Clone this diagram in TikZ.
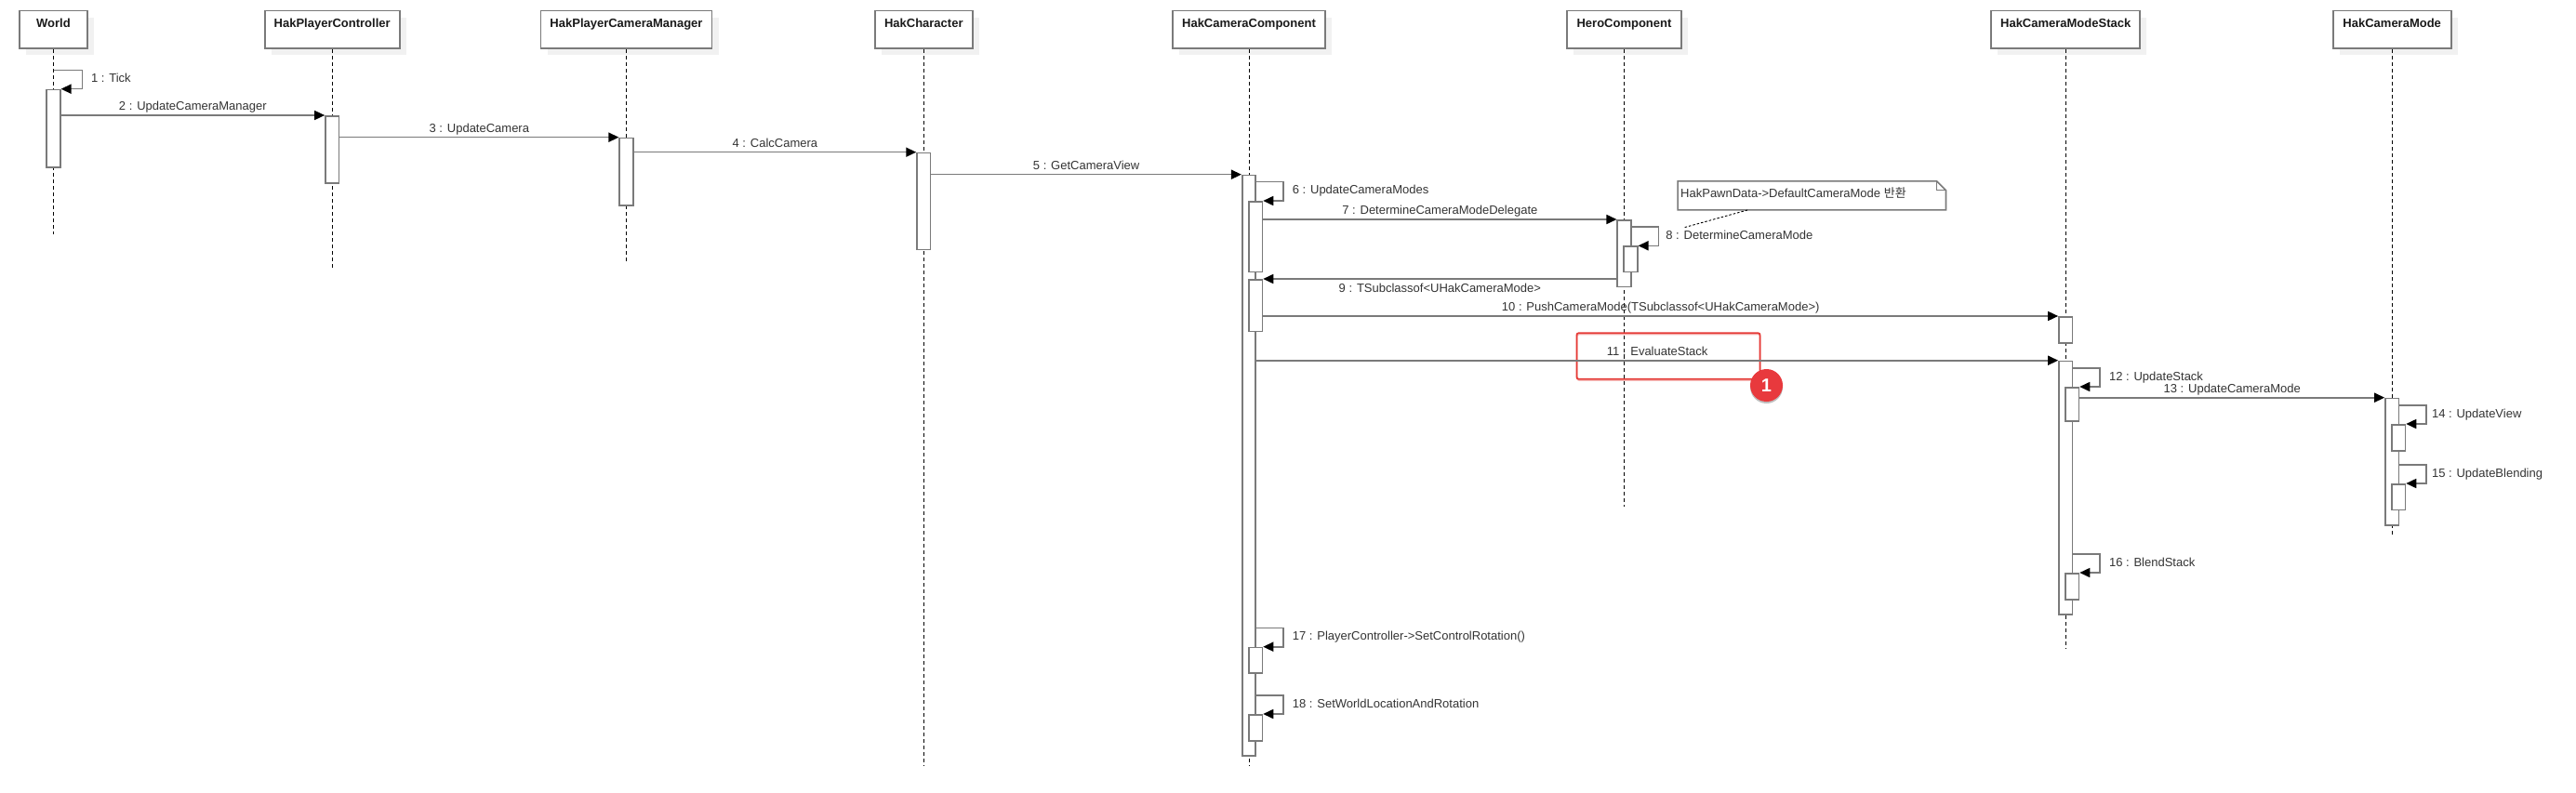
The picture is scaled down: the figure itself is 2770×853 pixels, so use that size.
\documentclass[tikz,border=0pt]{standalone}
\usepackage{fontspec}
\setmainfont{Liberation Sans}
\newfontfamily\krfont{Noto Sans CJK KR}
\usetikzlibrary{arrows.meta,shadows,calc}
\definecolor{linegray}{HTML}{7A7A7A}
\definecolor{shadowgray}{HTML}{F1F1F1}
\definecolor{labelcol}{HTML}{333333}
\definecolor{titlecol}{HTML}{1A1A1A}
\definecolor{hlred}{HTML}{E53935}
\definecolor{badgered}{HTML}{E8393D}
\begin{document}
\begin{tikzpicture}[x=1pt,y=-1pt,
  font=\fontsize{13}{15.6}\selectfont,
  participant/.style={draw=linegray, line width=1.6pt, fill=white, minimum height=40.6pt, inner sep=0pt,
    general shadow={fill=shadowgray, shadow xshift=7pt, shadow yshift=-7pt}},
  title/.style={font=\fontsize{13}{15.6}\selectfont\bfseries, text=titlecol, anchor=base, inner sep=0pt},
  act/.style={draw=linegray, line width=1.6pt, fill=white, minimum width=14.5pt, inner sep=0pt, anchor=north},
  msg/.style={draw=linegray, line width=1.6pt, -{Triangle[length=11pt,width=10pt,color=black]}},
  lbl/.style={text=labelcol, inner sep=0pt},
  mlbl/.style={lbl, midway, anchor=base, yshift=5.5pt},
  slbl/.style={lbl, pos=1, anchor=base west, xshift=9pt, yshift=-13.3pt},
  lifeline/.style={draw=black, line width=0.9pt, dash pattern=on 4pt off 3pt},
  notelink/.style={draw=black, line width=0.9pt, dash pattern=on 2.5pt off 2pt}
]
\useasboundingbox (0,0) rectangle (2770,853);

% participants
\node[participant, minimum width=73pt]  (world) at (57.5,32) {};
\node[participant, minimum width=145pt] (ctrl)  at (357.2,32) {};
\node[participant, minimum width=184pt] (mgr)   at (673.5,32) {};
\node[participant, minimum width=105pt] (chr)   at (993.3,32) {};
\node[participant, minimum width=164pt] (cc)    at (1343,32) {};
\node[participant, minimum width=123pt] (hero)  at (1746.5,32) {};
\node[participant, minimum width=160pt] (stack) at (2221.2,32) {};
\node[participant, minimum width=127pt] (mode)  at (2572.2,32) {};

\node[title] (tworld) at (57.5,29.2) {World};
\node[title] (tctrl)  at (357.2,29.2) {HakPlayerController};
\node[title] (tmgr)   at (673.5,29.2) {HakPlayerCameraManager};
\node[title] (tchr)   at (993.3,29.2) {HakCharacter};
\node[title] (tcc)    at (1343,29.2) {HakCameraComponent};
\node[title] (thero)  at (1746.5,29.2) {HeroComponent};
\node[title] (tstack) at (2221.2,29.2) {HakCameraModeStack};
\node[title] (tmode)  at (2572.2,29.2) {HakCameraMode};

% lifelines
\coordinate (eworld) at (57.5,251.7);
\coordinate (ectrl)  at (357.2,290);
\coordinate (emgr)   at (673.5,281.7);
\coordinate (echr)   at (993.3,823.3);
\coordinate (ecc)    at (1343,823.3);
\coordinate (ehero)  at (1746.5,545);
\coordinate (estack) at (2221.2,697.7);
\coordinate (emode)  at (2572.2,577.7);
\draw[lifeline] (world.south) -- (eworld);
\draw[lifeline] (ctrl.south) -- (ectrl);
\draw[lifeline] (mgr.south) -- (emgr);
\draw[lifeline] (chr.south) -- (echr);
\draw[lifeline] (cc.south) -- (ecc);
\draw[lifeline] (hero.south) -- (ehero);
\draw[lifeline] (stack.south) -- (estack);
\draw[lifeline] (mode.south) -- (emode);

% activations
\node[act, minimum height=83.8pt]  (wA)   at (57.5,95.7) {};
\node[act, minimum height=72pt]    (cA)   at (357.2,124) {};
\node[act, minimum height=72.3pt]  (mA)   at (673.5,147.7) {};
\node[act, minimum height=104pt]   (hA)   at (993.3,163.7) {};
\node[act, minimum height=624.3pt] (ccA)  at (1343,187.7) {};
\node[act, minimum height=75.7pt]  (ccN1) at (1350.2,216) {};
\node[act, minimum height=55.7pt]  (ccN2) at (1350.2,300) {};
\node[act, minimum height=27.6pt]  (ccN3) at (1350.2,695.7) {};
\node[act, minimum height=28pt]    (ccN4) at (1350.2,768) {};
\node[act, minimum height=71.7pt]  (hrA)  at (1746.5,236) {};
\node[act, minimum height=27.4pt]  (hrN)  at (1753.5,264.3) {};
\node[act, minimum height=28pt]    (sA1)  at (2221.2,340) {};
\node[act, minimum height=272.3pt] (sA2)  at (2221.2,387.7) {};
\node[act, minimum height=36pt]    (sN1)  at (2228.2,416) {};
\node[act, minimum height=28pt]    (sN2)  at (2228.2,616) {};
\node[act, minimum height=136.3pt] (mdA)  at (2572.2,427.7) {};
\node[act, minimum height=28pt]    (mdN1) at (2579.2,456) {};
\node[act, minimum height=27.7pt]  (mdN2) at (2579.2,520) {};

% highlight box (behind label)
\node[draw=hlred, line width=1.8pt, rounded corners=2pt, minimum width=197pt, minimum height=49.4pt, inner sep=0pt,
  general shadow={draw=hlred!35, line width=1.2pt, shadow xshift=0.5pt, shadow yshift=-1.5pt}] (hl) at (1794,383) {};

% messages
\draw[msg] ($(wA.north)+(0,-20)$) -- ++(30.8,0) node[slbl] (l1) {1 : Tick} |- (wA.north east);
\draw[msg] (wA.east |- cA.north) -- (cA.north west) node[mlbl] (l2) {2 : UpdateCameraManager};
\draw[msg] (cA.east |- mA.north) -- (mA.north west) node[mlbl] (l3) {3 : UpdateCamera};
\draw[msg] (mA.east |- hA.north) -- (hA.north west) node[mlbl] (l4) {4 : CalcCamera};
\draw[msg] (hA.east |- ccA.north) -- (ccA.north west) node[mlbl] (l5) {5 : GetCameraView};
\draw[msg] ($(ccA.east |- ccN1.north)+(0,-20.3)$) -- ++(29,0) node[slbl] (l6) {6 : UpdateCameraModes} |- (ccN1.north east);
\draw[msg] (ccN1.east |- hrA.north) -- (hrA.north west) node[mlbl] (l7) {7 : DetermineCameraModeDelegate};
\draw[msg] ($(hrA.east |- hrN.north)+(0,-20.3)$) -- ++(29,0) node[slbl, xshift=-2pt] (l8) {8 : DetermineCameraMode} |- (hrN.north east);
\draw[msg] (hrA.west |- ccN2.north) -- (ccN2.north east) node[lbl, midway, anchor=base, yshift=-14.4pt] (l9) {9 : TSubclassof<UHakCameraMode>};
\draw[msg] (ccN2.east |- sA1.north) -- (sA1.north west) node[mlbl] (l10) {10 : PushCameraMode(TSubclassof<UHakCameraMode>)};
\draw[msg] (ccA.east |- sA2.north) -- (sA2.north west) node[mlbl] (l11) {11 : EvaluateStack};
\draw[msg] ($(sA2.east |- sN1.north)+(0,-20.3)$) -- ++(29,0) node[slbl] (l12) {12 : UpdateStack} |- (sN1.north east);
\draw[msg] (sN1.east |- mdA.north) -- (mdA.north west) node[mlbl] (l13) {13 : UpdateCameraMode};
\draw[msg] ($(mdA.east |- mdN1.north)+(0,-20.3)$) -- ++(29,0) node[slbl, xshift=-4pt] (l14) {14 : UpdateView} |- (mdN1.north east);
\draw[msg] ($(mdA.east |- mdN2.north)+(0,-20.3)$) -- ++(29,0) node[slbl, xshift=-4pt] (l15) {15 : UpdateBlending} |- (mdN2.north east);
\draw[msg] ($(sA2.east |- sN2.north)+(0,-20.3)$) -- ++(29,0) node[slbl] (l16) {16 : BlendStack} |- (sN2.north east);
\draw[msg] ($(ccA.east |- ccN3.north)+(0,-20.3)$) -- ++(29,0) node[slbl] (l17) {17 : PlayerController->SetControlRotation()} |- (ccN3.north east);
\draw[msg] ($(ccA.east |- ccN4.north)+(0,-20.3)$) -- ++(29,0) node[slbl] (l18) {18 : SetWorldLocationAndRotation} |- (ccN4.north east);

% note
\node[minimum width=288pt, minimum height=30.7pt, inner sep=0pt] (note) at (1948.3,210.4) {};
\draw[draw=linegray, line width=1.6pt, fill=white]
  (note.north west) -- ($(note.north east)+(-10,0)$) -- ($(note.north east)+(0,10)$) -- (note.south east) -- (note.south west) -- cycle;
\draw[draw=linegray, line width=1.2pt] ($(note.north east)+(-10,0)$) -- ++(0,10) -- ++(10,0);
\node[lbl, anchor=base west] (notetext) at (1807,212) {HakPawnData->DefaultCameraMode {\krfont 반환}};
\coordinate (notetip) at (1810,245);
\draw[notelink] ($(note.south west)+(75,0)$) -- (notetip);

% badge
\fill[black, opacity=0.25] (1899.5,416.5) circle (17.5pt);
\node[circle, fill=badgered, minimum size=35pt, inner sep=0pt, text=white,
  font=\fontsize{20}{20}\selectfont\bfseries] (badge) at (1899.5,414.5) {1};
\end{tikzpicture}
\end{document}
